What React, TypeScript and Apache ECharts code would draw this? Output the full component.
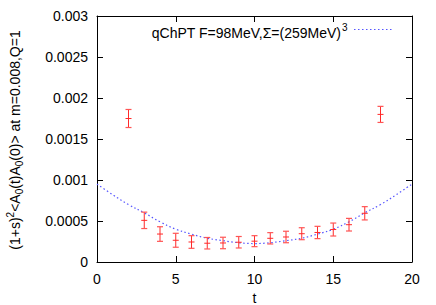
import React, { useEffect, useRef } from "react";
import * as echarts from "echarts";

const tValues = [2, 3, 4, 5, 6, 7, 8, 9, 10, 11, 12, 13, 14, 15, 16, 17, 18];
const corrValues = [0.00175, 0.000508, 0.000341, 0.000265, 0.000244, 0.000229, 0.000232, 0.000241, 0.000254, 0.000289, 0.000305, 0.000345, 0.00036, 0.000396, 0.000455, 0.000594, 0.0018];
const corrErrors = [0.00011, 0.0001, 0.000089, 0.000085, 0.000077, 0.00007, 0.00007, 0.00007, 0.000067, 0.000069, 0.00007, 0.000073, 0.000075, 0.000079, 0.000077, 0.000081, 0.000098];

const fitT = [0, 1, 2, 3, 4, 5, 6, 7, 8, 9, 10, 11, 12, 13, 14, 15, 16, 17, 18, 19, 20];
const fitValues = [0.00095, 0.00082, 0.0007, 0.0006, 0.00049, 0.0004, 0.00034, 0.00029, 0.00026, 0.000235, 0.000225, 0.000235, 0.00026, 0.00029, 0.00034, 0.0004, 0.00049, 0.0006, 0.0007, 0.00082, 0.00095];

const yTickLabels = ["0", "0.0005", "0.001", "0.0015", "0.002", "0.0025", "0.003"];
const xTickLabels = ["0", "5", "10", "15", "20"];

const FONT = "Liberation Sans, Arial, Helvetica, sans-serif";

export default function App() {
  const ref = useRef<HTMLDivElement>(null);
  useEffect(() => {
    if (!ref.current) return;
    document.body.style.margin = "0";
    const chart = echarts.init(ref.current, null, { renderer: "svg" });
    const errData = tValues.map((t, i) => [t, corrValues[i], corrValues[i] - corrErrors[i], corrValues[i] + corrErrors[i]]);
    const axisCommon = {
      axisLine: { show: true, onZero: false, lineStyle: { color: "#000", width: 1 } },
      axisTick: { show: true, inside: true, length: 6, lineStyle: { color: "#000" } },
      splitLine: { show: false },
    };
    chart.setOption({
      animation: false,
      grid: { left: 97, right: 24, top: 16, bottom: 43, containLabel: false, outerBoundsMode: "none" },
      xAxis: [
        {
          type: "value", min: 0, max: 20, interval: 5, position: "bottom",
          ...axisCommon,
          axisLabel: {
            margin: 10, color: "#000", fontSize: 14, fontFamily: FONT,
            formatter: (v: number) => xTickLabels[Math.round(v / 5)] ?? "",
          },
          name: "t", nameLocation: "middle", nameGap: 28,
          nameTextStyle: { color: "#000", fontSize: 14, fontFamily: FONT },
        },
        {
          type: "value", min: 0, max: 20, interval: 5, position: "top",
          ...axisCommon, axisLabel: { show: false },
        },
      ],
      yAxis: [
        {
          type: "value", min: 0, max: 0.003, interval: 0.0005, position: "left",
          ...axisCommon,
          axisLabel: {
            margin: 9, color: "#000", fontSize: 14, fontFamily: FONT,
            formatter: (v: number) => yTickLabels[Math.round(v / 0.0005)] ?? "",
          },
        },
        {
          type: "value", min: 0, max: 0.003, interval: 0.0005, position: "right",
          ...axisCommon, axisLabel: { show: false },
        },
      ],
      graphic: [
        {
          type: "text", x: 341, y: 33,
          style: {
            text: "qChPT F=98MeV,\u03A3=(259MeV)", fill: "#000", fontSize: 14, fontFamily: FONT,
            textAlign: "right", textVerticalAlign: "middle",
          },
        },
        {
          type: "text", x: 342, y: 27,
          style: { text: "3", fill: "#000", fontSize: 10, fontFamily: FONT, textAlign: "left", textVerticalAlign: "middle" },
        },
        {
          type: "line", shape: { x1: 354, y1: 29.5, x2: 392, y2: 29.5 },
          style: { stroke: "#5555ff", lineWidth: 1.2, lineDash: [1.5, 2.5] },
        },
        {
          type: "text", x: 15, y: 140, rotation: Math.PI / 2,
          style: {
            text: "{m|(1+s)}{sup|2}{m|<A}{sub|0}{m|(t)A}{sub|0}{m|(0)> at m=0.008,Q=1}",
            textAlign: "center", textVerticalAlign: "middle",
            rich: {
              m: { fontSize: 14, fontFamily: FONT, fill: "#000", lineHeight: 19 },
              sup: { fontSize: 10, fontFamily: FONT, fill: "#000", verticalAlign: "top", lineHeight: 19 },
              sub: { fontSize: 10, fontFamily: FONT, fill: "#000", verticalAlign: "bottom", lineHeight: 19 },
            },
          },
        },
      ],
      series: [
        {
          type: "line", xAxisIndex: 0, yAxisIndex: 0,
          data: fitT.map((t, i) => [t, fitValues[i]]),
          smooth: 0.4, showSymbol: false, symbol: "none", clip: true,
          lineStyle: { color: "#5555ff", width: 1.2, type: [1.5, 2.5] },
          z: 2,
        },
        {
          type: "custom", xAxisIndex: 0, yAxisIndex: 0,
          data: errData,
          renderItem: (params: any, api: any) => {
            const t = api.value(0);
            const c = api.coord([t, api.value(1)]);
            const lo = api.coord([t, api.value(2)]);
            const hi = api.coord([t, api.value(3)]);
            const w = 3;
            const stroke = "#ff2a2a";
            return {
              type: "group",
              children: [
                { type: "line", shape: { x1: c[0], y1: lo[1], x2: c[0], y2: hi[1] }, style: { stroke, lineWidth: 1 } },
                { type: "line", shape: { x1: c[0] - w, y1: lo[1], x2: c[0] + w, y2: lo[1] }, style: { stroke: "#ff5555", lineWidth: 1.2 } },
                { type: "line", shape: { x1: c[0] - w, y1: hi[1], x2: c[0] + w, y2: hi[1] }, style: { stroke: "#ff5555", lineWidth: 1.2 } },
                { type: "line", shape: { x1: c[0] - w, y1: c[1], x2: c[0] + w, y2: c[1] }, style: { stroke, lineWidth: 1 } },
              ],
            };
          },
          z: 3,
        },
      ],
    });
    return () => chart.dispose();
  }, []);
  return <div ref={ref} style={{ width: 436, height: 305 }} />;
}
